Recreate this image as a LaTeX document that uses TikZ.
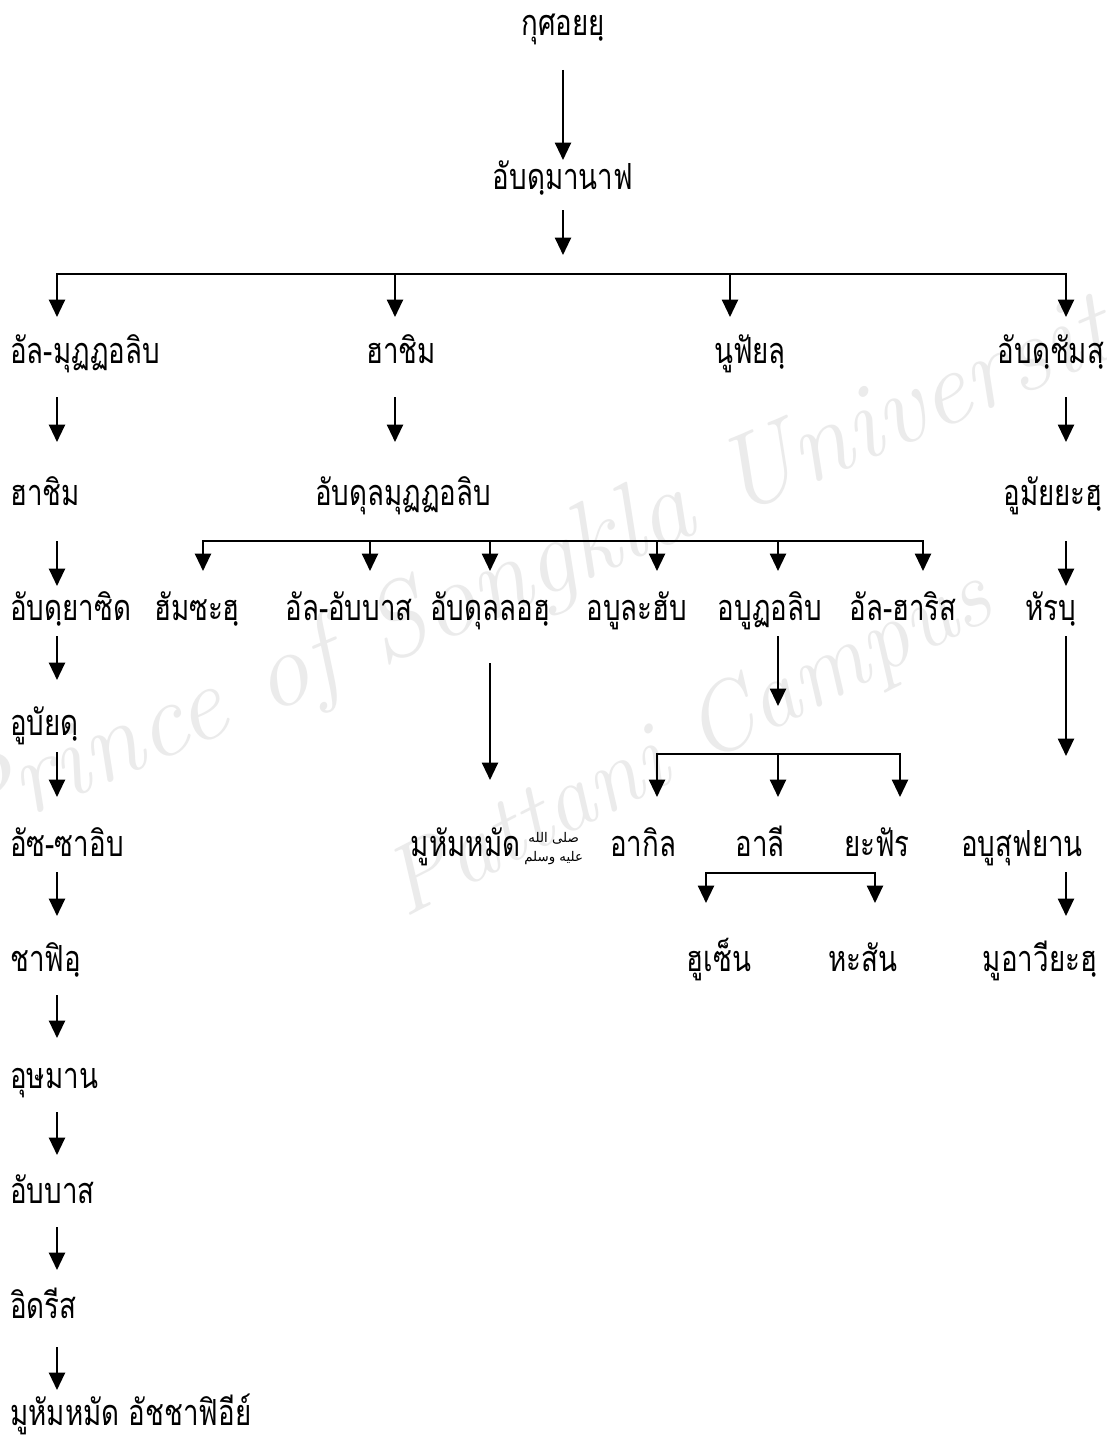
\documentclass[tikz,border=0pt]{standalone}
\usepackage{fontspec}
\TeXXeTstate=1
\newfontfamily\thai[Script=Thai,FakeStretch=0.77]{Loma}
\newfontfamily\arabicfont[Script=Arabic]{DejaVu Sans}
\newcommand{\pbuh}{\hspace{3pt}\raisebox{-4pt}{\arabicfont\fontsize{10}{10}\selectfont\shortstack{\beginR صلى الله\endR\\[2pt]\beginR عليه وسلم\endR}}}
\usetikzlibrary{arrows.meta,calc}
\begin{document}
\begin{tikzpicture}[x=0.75pt,y=-0.75pt,
  lbl/.style={font=\thai\fontsize{27}{30}\selectfont, inner sep=0pt, anchor=base},
  lft/.style={lbl, anchor=base west},
  arr/.style={line width=1.6pt, -{Triangle[length=13pt,width=12pt]}},
  wm/.style={font=\itshape\fontsize{80}{80}\selectfont, text=black!8, inner sep=0pt}]
\useasboundingbox (0,0) rectangle (1106,1441);
\fill[white] (0,0) rectangle (1106,1441);
% watermark
\node[wm, rotate=23] (wm1) at (553,565) {Prince of Songkla University};
\node[wm, rotate=27, font=\itshape\fontsize{72}{72}\selectfont] (wm2) at (690,745) {Pattani Campus};
% nodes
\node[lbl] (n0) at (563,36) {กุศอยยฺ};
\node[lbl] (n1) at (563,190) {อับดฺมานาฟ};
\node[lft] (a1) at (10,363) {อัล-มุฏฏอลิบ};
\node[lbl] (a2) at (401,363) {ฮาชิม};
\node[lbl] (a3) at (750,363) {นูฟัยลฺ};
\node[lbl] (a4) at (1051,363) {อับดฺชัมสฺ};
\node[lft] (b1) at (10,505) {ฮาชิม};
\node[lbl] (b2) at (403,505) {อับดุลมุฏฏอลิบ};
\node[lbl] (b4) at (1053,505) {อูมัยยะฮฺ};
\node[lft] (c1) at (10,620) {อับดฺยาซิด};
\node[lbl] (c2) at (197,620) {ฮัมซะฮฺ};
\node[lbl] (c3) at (349,620) {อัล-อับบาส};
\node[lbl] (c4) at (490,620) {อับดุลลอฮฺ};
\node[lbl] (c5) at (637,620) {อบูละฮับ};
\node[lbl] (c6) at (770,620) {อบูฏอลิบ};
\node[lbl] (c7) at (903,620) {อัล-ฮาริส};
\node[lbl] (c8) at (1051,620) {หัรบฺ};
\node[lft] (d1) at (10,735) {อูบัยดฺ};
\node[lft] (e1) at (10,856) {อัซ-ซาอิบ};
\node[lbl] (e2) at (497,856) {มูหัมหมัด\pbuh};
\node[lbl] (e3) at (643,856) {อากิล};
\node[lbl] (e4) at (760,856) {อาลี};
\node[lbl] (e5) at (877,856) {ยะฟัร};
\node[lbl] (e6) at (1022,856) {อบูสุฟยาน};
\node[lft] (f1) at (10,971) {ชาฟิอฺ};
\node[lbl] (f2) at (719,971) {ฮูเซ็น};
\node[lbl] (f3) at (863,971) {หะสัน};
\node[lbl] (f4) at (1040,971) {มูอาวียะฮฺ};
\node[lft] (g1) at (10,1088) {อุษมาน};
\node[lft] (h1) at (10,1203) {อับบาส};
\node[lft] (i1) at (10,1318) {อิดรีส};
\node[lft] (j1) at (10,1425) {มูหัมหมัด อัชชาฟิอีย์};
% connectors
\draw[arr] ($(n0.base)+(0,34)$) -- ($(n1.base)+(0,-30)$);
\coordinate (t1) at ($(n1.base)+(0,65)$);
\draw[arr] ($(n1.base)+(0,20)$) -- (t1);
\coordinate (j1c) at ($(n1.base)+(0,84)$);
\draw[arr] (j1c) -| ($(a1.base west)+(47,-46)$);
\draw[arr] (j1c) -| ($(a2.base)+(-6,-46)$);
\draw[arr] (j1c) -| ($(a3.base)+(-20,-46)$);
\draw[arr] (j1c) -| ($(a4.base)+(15,-46)$);
\draw[arr] ($(a1.base west)+(47,34)$) -- ($(b1.base west)+(47,-63)$);
\draw[arr] ($(a2.base)+(-6,34)$) -- ($(b2.base)+(-8,-63)$);
\draw[arr] ($(a4.base)+(15,34)$) -- ($(b4.base)+(13,-63)$);
\coordinate (j2c) at ($(b2.base)+(0,36)$);
\draw[arr] (j2c) -| ($(c2.base)+(6,-49)$);
\draw[arr] (j2c) -| ($(c3.base)+(21,-49)$);
\draw[arr] (j2c) -| ($(c4.base)+(0,-49)$);
\draw[arr] (j2c) -| ($(c5.base)+(20,-49)$);
\draw[arr] (j2c) -| ($(c6.base)+(8,-49)$);
\draw[arr] (j2c) -| ($(c7.base)+(20,-49)$);
\draw[arr] ($(b1.base west)+(47,36)$) -- ($(c1.base west)+(47,-34)$);
\draw[arr] ($(b4.base)+(13,36)$) -- ($(c8.base)+(15,-34)$);
\draw[arr] ($(c1.base west)+(47,16)$) -- ($(d1.base west)+(47,-55)$);
\draw[arr] ($(c4.base)+(0,43)$) -- ($(e2.base)+(-7,-76)$);
\coordinate (t3) at ($(c6.base)+(8,86)$);
\draw[arr] ($(c6.base)+(8,16)$) -- (t3);
\coordinate (j3c) at ($(c6.base)+(8,134)$);
\draw[arr] (j3c) -| ($(e3.base)+(14,-59)$);
\draw[arr] (j3c) -| ($(e4.base)+(18,-59)$);
\draw[arr] (j3c) -| ($(e5.base)+(23,-59)$);
\draw[arr] ($(c8.base)+(15,16)$) -- ($(e6.base)+(44,-100)$);
\draw[arr] ($(d1.base west)+(47,17)$) -- ($(e1.base west)+(47,-59)$);
\coordinate (j4c) at ($(e4.base)+(0,17)$);
\draw[arr] (j4c) -| ($(f2.base)+(-13,-68)$);
\draw[arr] (j4c) -| ($(f3.base)+(12,-68)$);
\draw[arr] ($(e1.base west)+(47,16)$) -- ($(f1.base west)+(47,-55)$);
\draw[arr] ($(e6.base)+(44,16)$) -- ($(f4.base)+(26,-55)$);
\draw[arr] ($(f1.base west)+(47,24)$) -- ($(g1.base west)+(47,-50)$);
\draw[arr] ($(g1.base west)+(47,24)$) -- ($(h1.base west)+(47,-48)$);
\draw[arr] ($(h1.base west)+(47,24)$) -- ($(i1.base west)+(47,-48)$);
\draw[arr] ($(i1.base west)+(47,29)$) -- ($(j1.base west)+(47,-35)$);
\end{tikzpicture}
\end{document}
